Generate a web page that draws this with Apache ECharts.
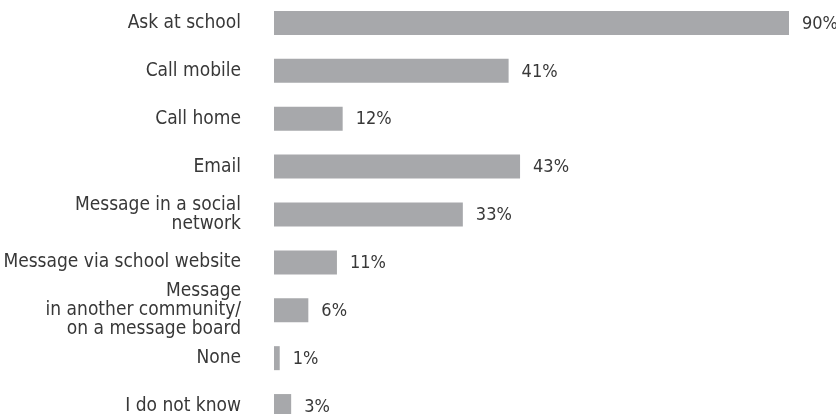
<!DOCTYPE html>
<html>
<head>
<meta charset="utf-8">
<script src="https://cdn.jsdelivr.net/npm/echarts@6/dist/echarts.min.js"></script>
<style>
  html, body { margin: 0; padding: 0; background: #ffffff; }
  #chart { width: 836px; height: 414px; }
</style>
</head>
<body>
<div id="chart"></div>
<script>
// Ways of getting in touch, share of respondents (%)
const categories = [
  'Ask at school',
  'Call mobile',
  'Call home',
  'Email',
  'Message in a social\nnetwork',
  'Message via school website',
  'Message\nin another community/\non a message board',
  'None',
  'I do not know'
];
const shares = [90, 41, 12, 43, 33, 11, 6, 1, 3];

const FONT = "'DejaVu Sans Condensed', 'Liberation Sans', sans-serif";
const TEXT = '#383838';
const BAR = '#a7a8ab';

const chart = echarts.init(document.getElementById('chart'), null, { renderer: 'canvas' });
chart.setOption({
  animation: false,
  grid: {
    left: 274, right: 47, top: -1, bottom: -16,
    containLabel: false,
    outerBoundsMode: 'none'
  },
  xAxis: {
    type: 'value',
    min: 0,
    max: 90,
    show: false
  },
  yAxis: {
    type: 'category',
    inverse: true,
    data: categories,
    axisLine: { show: false },
    axisTick: { show: false },
    splitLine: { show: false },
    axisLabel: {
      margin: 33,
      align: 'right',
      color: TEXT,
      fontFamily: FONT,
      fontSize: 19,
      lineHeight: 19
    }
  },
  series: [{
    type: 'bar',
    data: shares,
    barWidth: 24,
    itemStyle: { color: BAR },
    label: {
      show: true,
      position: 'right',
      distance: 13,
      offset: [0, 1],
      formatter: '{c}%',
      color: TEXT,
      fontFamily: FONT,
      fontSize: 18
    }
  }]
});
</script>
</body>
</html>
